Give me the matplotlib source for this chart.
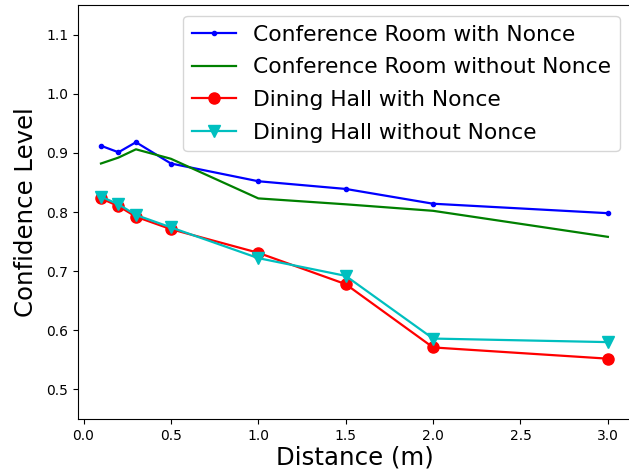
import matplotlib
matplotlib.use("Agg")
import matplotlib.pyplot as plt

distance = [0.1, 0.2, 0.3, 0.5, 1.0, 1.5, 2.0, 3.0]
conf_with_nonce = [0.912, 0.901, 0.918, 0.882, 0.852, 0.839, 0.814, 0.798]
conf_without_nonce = [0.882, 0.892, 0.906, 0.890, 0.823, 0.813, 0.802, 0.758]
dining_with_nonce = [0.823, 0.810, 0.792, 0.771, 0.731, 0.678, 0.571, 0.552]
dining_without_nonce = [0.826, 0.813, 0.795, 0.774, 0.722, 0.692, 0.586, 0.580]

fig = plt.figure(figsize=(6.29, 4.76), dpi=100)
ax = fig.add_axes([78 / 629, 57 / 476, 554 / 629, 414 / 476])

ax.plot(distance, conf_with_nonce, 'b.-', lw=1.6, label='Conference Room with Nonce')
ax.plot(distance, conf_without_nonce, 'g-', lw=1.6, label='Conference Room without Nonce')
ax.plot(distance, dining_with_nonce, 'ro-', lw=1.6, ms=8, label='Dining Hall with Nonce')
ax.plot(distance, dining_without_nonce, 'cv-', lw=1.6, ms=8, label='Dining Hall without Nonce')

ax.set_xlim(-0.0315, 3.138)
ax.set_ylim(0.45, 1.15)
ax.set_xticks([0.0, 0.5, 1.0, 1.5, 2.0, 2.5, 3.0])
ax.set_yticks([0.5, 0.6, 0.7, 0.8, 0.9, 1.0, 1.1])
ax.tick_params(labelsize=10)

ax.set_xlabel('Distance (m)', fontsize=17.6, labelpad=2)
ax.set_ylabel('Confidence Level', fontsize=17.6, labelpad=6)
ax.legend(loc='upper right', fontsize=15.7, borderaxespad=0.5,
          labelspacing=0.58, bbox_to_anchor=(0.9975, 1.0))

fig.savefig('out.png', dpi=100)
